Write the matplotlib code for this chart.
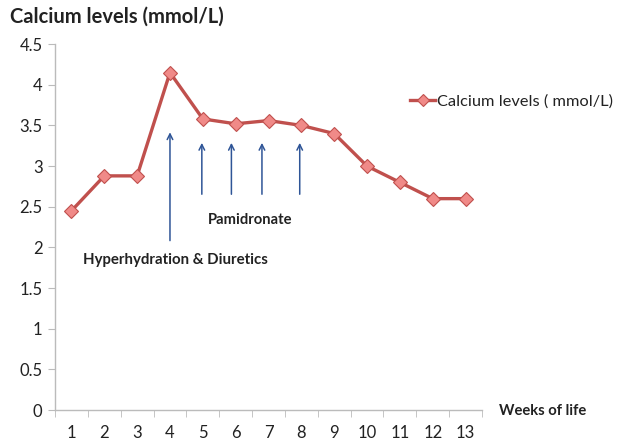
import numpy as np
import matplotlib.pyplot as plt

plt.rcParams['font.family'] = ['Lato', 'DejaVu Sans']

# Data
weeks = [1, 2, 3, 4, 5, 6, 7, 8, 9, 10, 11, 12, 13]
calcium = [2.45, 2.88, 2.88, 4.15, 3.58, 3.52, 3.56, 3.50, 3.40, 3.00, 2.80, 2.60, 2.60]

# Treatment arrows (x position in weeks, tail, head)
hyper_x = 4.0
hyper_y = (2.05, 3.45)
pamid_x = [4.97, 5.87, 6.8, 7.95]
pamid_y = (2.62, 3.32)

line_red = "#C0504D"
marker_fill = "#F08A88"
arrow_blue = "#2F5597"

fig = plt.figure(figsize=(6.18, 4.41), dpi=100)
ax = fig.add_axes([0.089, 0.070, 0.691, 0.830])

ax.plot(weeks, calcium, color=line_red, linewidth=2.4, marker='D', markersize=7,
        markerfacecolor=marker_fill, markeredgecolor=line_red, markeredgewidth=0.8,
        label='Calcium levels ( mmol/L)', zorder=3)

# Arrows
ax.annotate('', xy=(hyper_x, hyper_y[1]), xytext=(hyper_x, hyper_y[0]),
            arrowprops=dict(arrowstyle='->', color=arrow_blue, lw=1.1,
                            mutation_scale=10))
for xp in pamid_x:
    ax.annotate('', xy=(xp, pamid_y[1]), xytext=(xp, pamid_y[0]),
                arrowprops=dict(arrowstyle='->', color=arrow_blue, lw=1.1,
                                mutation_scale=10))

ax.text(6.45, 2.34, 'Pamidronate', fontsize=10.6, fontweight='bold',
        color='#222222', ha='center', va='center')
ax.text(4.16, 1.85, 'Hyperhydration & Diuretics', fontsize=10.8, fontweight='bold',
        color='#222222', ha='center', va='center')

# Axes styling
ax.set_xlim(0.5, 13.5)
ax.set_ylim(0, 4.5)
ax.set_yticks(np.arange(0, 4.51, 0.5))
ax.set_yticklabels(['0', '0.5', '1', '1.5', '2', '2.5', '3', '3.5', '4', '4.5'])
ax.set_xticks(weeks)
ax.set_xticks(np.arange(0.5, 13.6, 1), minor=True)
ax.tick_params(axis='x', which='major', length=0, pad=11, labelsize=12)
ax.tick_params(axis='x', which='minor', length=5, color='#BBBBBB', direction='out')
ax.tick_params(axis='y', length=5, color='#BBBBBB', labelsize=12, pad=4)
for lab in ax.get_yticklabels() + ax.get_xticklabels():
    lab.set_color('#222222')
for s in ['top', 'right']:
    ax.spines[s].set_visible(False)
for s in ['left', 'bottom']:
    ax.spines[s].set_color('#BBBBBB')
    ax.spines[s].set_linewidth(1)

fig.text(0.016, 0.962, 'Calcium levels (mmol/L)', fontsize=14.5, fontweight='bold',
         color='#222222', ha='left', va='center')
fig.text(0.807, 0.068, 'Weeks of life', fontsize=10.6, fontweight='bold',
         color='#222222', ha='left', va='center')

leg = ax.legend(loc='center left', bbox_to_anchor=(0.832, 0.842), frameon=False,
                fontsize=11.8, handlelength=1.5, handletextpad=0.1, borderaxespad=0,
                borderpad=0, markerscale=0.85)
for t in leg.get_texts():
    t.set_color('#222222')

fig.savefig('out.png', dpi=100)
